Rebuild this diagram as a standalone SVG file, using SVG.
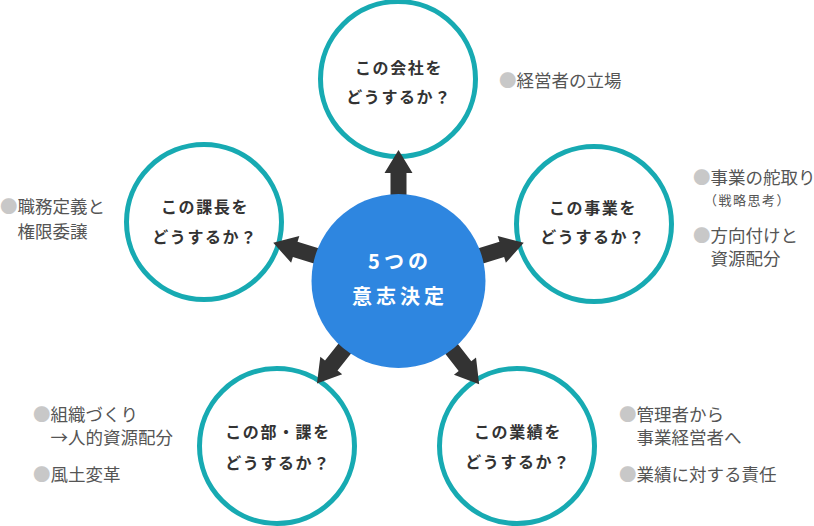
<svg xmlns="http://www.w3.org/2000/svg" xmlns:xlink="http://www.w3.org/1999/xlink" width="814" height="526" viewBox="0 0 814 526">
<style>
.ring{fill:#fff;stroke:#17aab2;stroke-width:5}
.core{fill:#2e86e0}
.lbl{font-family:"Noto Sans CJK JP","Noto Sans",sans-serif;font-weight:700;font-size:16px;fill:#333;letter-spacing:1.6px;text-anchor:middle}
.ctr{font-family:"Noto Sans CJK JP","Noto Sans",sans-serif;font-weight:700;font-size:20px;fill:#fff;letter-spacing:4px;text-anchor:middle}
.side{font-family:"Noto Sans CJK JP","Noto Sans",sans-serif;font-weight:400;font-size:17.5px;fill:#555}
.small{font-family:"Noto Sans CJK JP","Noto Sans",sans-serif;font-weight:400;font-size:13px;fill:#555;letter-spacing:1.5px}
.dot{fill:#c8c8c8}
.arrow{fill:#333}
</style>
<defs>
<path id="arr" d="M 70 -8 L 108 -8 L 108 -14 L 131 0 L 108 14 L 108 8 L 70 8 Z"/>
</defs>

<g id="node-company">
<circle class="ring" cx="398" cy="79" r="77.5"/>
<text class="lbl" x="399" y="74">この会社を</text>
<text class="lbl" x="399" y="103">どうするか？</text>
</g>
<g id="node-business">
<circle class="ring" cx="594" cy="224" r="77.5"/>
<text class="lbl" x="593" y="214">この事業を</text>
<text class="lbl" x="593" y="243">どうするか？</text>
</g>
<g id="node-manager">
<circle class="ring" cx="204" cy="222" r="77.5"/>
<text class="lbl" x="205" y="213">この課長を</text>
<text class="lbl" x="205" y="243">どうするか？</text>
</g>
<g id="node-dept">
<circle class="ring" cx="277" cy="446" r="77.5"/>
<text class="lbl" x="278" y="438">この部・課を</text>
<text class="lbl" x="278" y="469">どうするか？</text>
</g>
<g id="node-results">
<circle class="ring" cx="517" cy="446" r="77.5"/>
<text class="lbl" x="518" y="438">この業績を</text>
<text class="lbl" x="518" y="468">どうするか？</text>
</g>

<g id="connectors" class="arrow">
<use xlink:href="#arr" href="#arr" transform="translate(398.5,281) rotate(-90)"/>
<use xlink:href="#arr" href="#arr" transform="translate(398.5,281) rotate(-17)"/>
<use xlink:href="#arr" href="#arr" transform="translate(398.5,281) rotate(52)"/>
<use xlink:href="#arr" href="#arr" transform="translate(398.5,281) rotate(128.5)"/>
<use xlink:href="#arr" href="#arr" transform="translate(398.5,281) rotate(197)"/>
</g>

<g id="node-center">
<circle class="core" cx="398.5" cy="281" r="87"/>
<text class="ctr" x="400" y="269">5つの</text>
<text class="ctr" x="400" y="304">意志決定</text>
</g>

<g id="note-company">
<text class="side" x="499" y="87"><tspan class="dot">●</tspan>経営者の立場</text>
</g>
<g id="note-business">
<text class="side" x="693" y="184"><tspan class="dot">●</tspan>事業の舵取り</text>
<text class="small" x="704" y="205">（戦略思考）</text>
<text class="side" x="693" y="242"><tspan class="dot">●</tspan>方向付けと</text>
<text class="side" x="710.5" y="265">資源配分</text>
</g>
<g id="note-manager">
<text class="side" x="0" y="213"><tspan class="dot">●</tspan>職務定義と</text>
<text class="side" x="17.5" y="238">権限委譲</text>
</g>
<g id="note-dept">
<text class="side" x="33" y="421"><tspan class="dot">●</tspan>組織づくり</text>
<text class="side" x="50.5" y="444">→人的資源配分</text>
<text class="side" x="33" y="481"><tspan class="dot">●</tspan>風土変革</text>
</g>
<g id="note-results">
<text class="side" x="619" y="421"><tspan class="dot">●</tspan>管理者から</text>
<text class="side" x="636.5" y="444">事業経営者へ</text>
<text class="side" x="619" y="481"><tspan class="dot">●</tspan>業績に対する責任</text>
</g>
</svg>
